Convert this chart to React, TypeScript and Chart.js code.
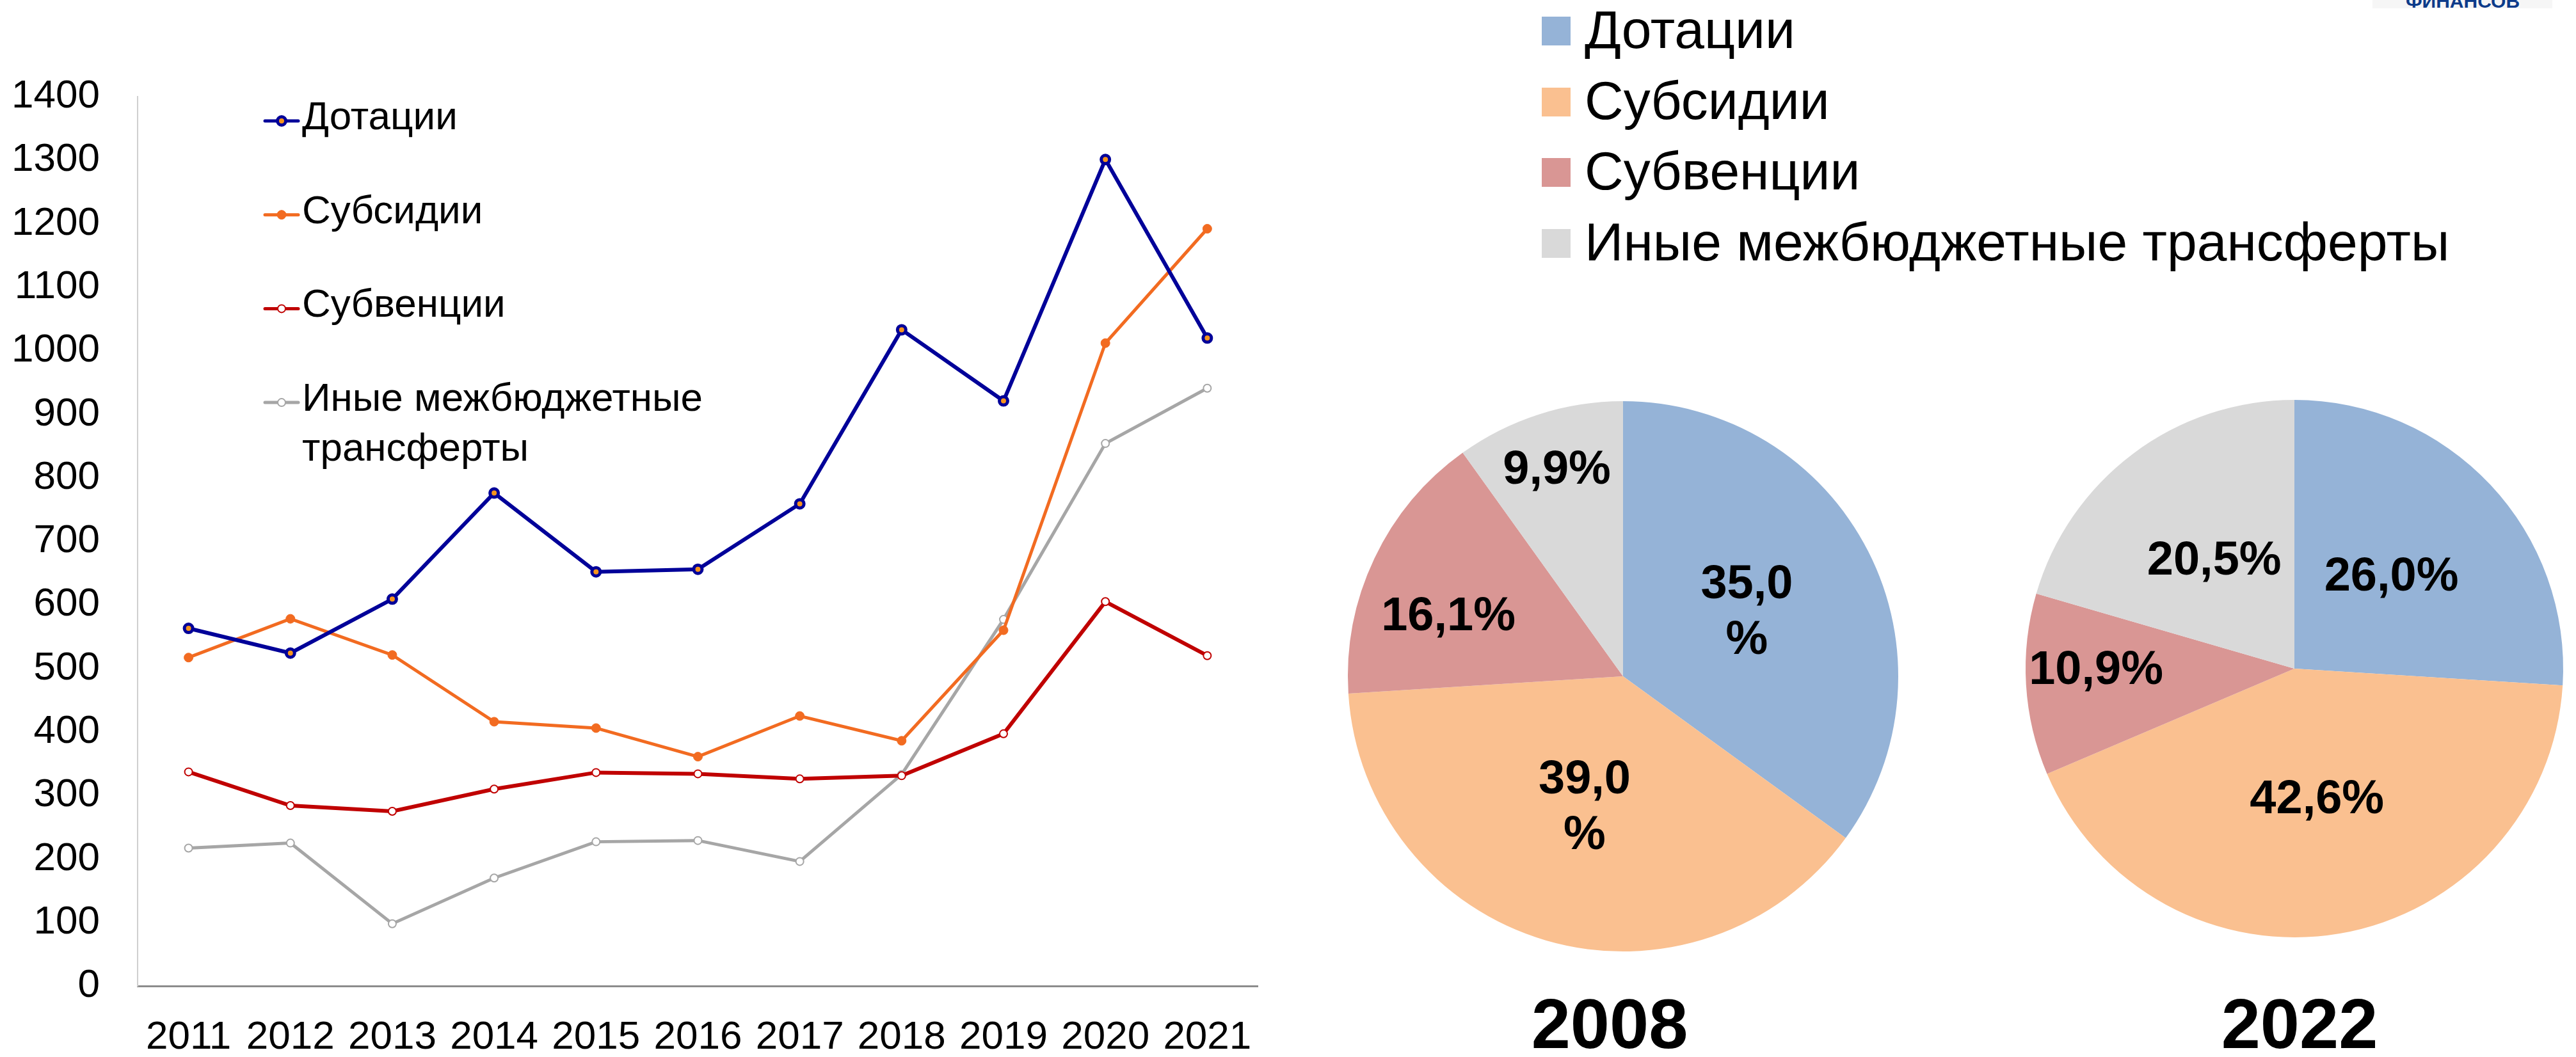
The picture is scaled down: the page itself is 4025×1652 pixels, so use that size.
import React, { useEffect, useRef } from 'react';
import { Chart, registerables } from 'chart.js';

Chart.register(...registerables);

const FONT = "'Liberation Sans', Arial, sans-serif";

// ---- Line chart data ----
const years = ['2011', '2012', '2013', '2014', '2015', '2016', '2017', '2018', '2019', '2020', '2021'];
const seriesNames = ['Дотации', 'Субсидии', 'Субвенции', 'Иные межбюджетные трансферты'];
const dotacii = [563, 524, 609, 776, 652, 656, 759, 1033, 921, 1301, 1020];
const subsidii = [517, 578, 521, 416, 406, 361, 425, 386, 560, 1012, 1192];
const subvencii = [337, 284, 275, 310, 336, 334, 326, 331, 397, 605, 520];
const inye = [217, 225, 98, 170, 227, 229, 196, 333, 577, 854, 941];
const yMin = 0;
const yMax = 1400;
const yStep = 100;

// ---- Pie chart data ----
const pieYears = ['2008', '2022'];
const share2008 = [35.0, 39.0, 16.1, 9.9];
const share2022 = [26.0, 42.6, 10.9, 20.5];
const pieColors = ['#95B3D7', '#FAC090', '#D99694', '#D9D9D9'];

// label placement (fraction of radius along slice bisector, angle tweak in degrees, wrap "%" to next line)
const labelRadius2008 = [0.505, 0.5, 0.67, 0.786];
const labelShift2008 = [0, 0, -6.7, 0];
const labelWrap2008 = [true, true, false, false];
const labelRadius2022 = [0.495, 0.497, 0.738, 0.497];
const labelShift2022 = [0, 0, 2.7, 0];
const labelWrap2022 = [false, false, false, false];

const lineStyles = [
  { color: '#000099', pointFill: '#F7941D', pointBorder: '#000099', radius: 6.5, bw: 5, width: 6 },
  { color: '#F26B21', pointFill: '#F26B21', pointBorder: '#F26B21', radius: 7, bw: 1, width: 5 },
  { color: '#C00000', pointFill: '#FFFFFF', pointBorder: '#C00000', radius: 6, bw: 2, width: 6 },
  { color: '#A6A6A6', pointFill: '#FFFFFF', pointBorder: '#A6A6A6', radius: 6, bw: 2, width: 5 },
];

const fmtPct = (v: number) => v.toFixed(1).replace('.', ',') + '%';

function wrapText(ctx: CanvasRenderingContext2D, text: string, maxWidth: number): string[] {
  const words = text.split(' ');
  const lines: string[] = [];
  let cur = '';
  for (const w of words) {
    const test = cur ? cur + ' ' + w : w;
    if (cur && ctx.measureText(test).width > maxWidth) {
      lines.push(cur);
      cur = w;
    } else cur = test;
  }
  if (cur) lines.push(cur);
  return lines;
}

const lineLegendPlugin = {
  id: 'lineLegend',
  afterDraw(chart: any) {
    const ctx: CanvasRenderingContext2D = chart.ctx;
    ctx.save();
    ctx.font = `62px ${FONT}`;
    ctx.textAlign = 'left';
    ctx.textBaseline = 'middle';
    chart.data.datasets.forEach((ds: any, i: number) => {
      const y = 189 + i * 146.7;
      ctx.strokeStyle = ds.borderColor;
      ctx.lineWidth = 5;
      ctx.lineCap = 'round';
      ctx.beginPath();
      ctx.moveTo(414, y);
      ctx.lineTo(466, y);
      ctx.stroke();
      ctx.beginPath();
      ctx.arc(440, y, ds.pointRadius, 0, Math.PI * 2);
      ctx.fillStyle = ds.pointBackgroundColor;
      ctx.fill();
      ctx.lineWidth = ds.pointBorderWidth;
      ctx.strokeStyle = ds.pointBorderColor;
      ctx.stroke();
      ctx.fillStyle = '#000';
      const lines = wrapText(ctx, ds.label, 700);
      lines.forEach((ln, k) => ctx.fillText(ln, 472, y - 4 + k * 78));
    });
    ctx.restore();
  },
};

function makePieLabelPlugin(radius: number[], shift: number[], wrap: boolean[]) {
  return {
    id: 'pieLabels',
    afterDatasetsDraw(chart: any) {
      const ctx: CanvasRenderingContext2D = chart.ctx;
      const meta = chart.getDatasetMeta(0);
      const values = chart.data.datasets[0].data as number[];
      ctx.save();
      ctx.font = `bold 74px ${FONT}`;
      ctx.fillStyle = '#000';
      ctx.textAlign = 'center';
      ctx.textBaseline = 'middle';
      meta.data.forEach((arc: any, i: number) => {
        const p = arc.getProps(['x', 'y', 'startAngle', 'endAngle', 'outerRadius'], true);
        const mid = (p.startAngle + p.endAngle) / 2 + (shift[i] * Math.PI) / 180;
        const r = p.outerRadius * radius[i];
        const px = p.x + Math.cos(mid) * r;
        const py = p.y + Math.sin(mid) * r;
        const txt = fmtPct(values[i]);
        const lines = wrap[i] ? [txt.slice(0, -1), '%'] : [txt];
        lines.forEach((ln, k) => ctx.fillText(ln, px, py + (k - (lines.length - 1) / 2) * 87));
      });
      ctx.restore();
    },
  };
}

function pieConfig(values: number[], plugin: any): any {
  return {
    type: 'pie',
    data: {
      labels: seriesNames,
      datasets: [
        {
          data: values,
          backgroundColor: pieColors,
          borderWidth: 0,
          hoverOffset: 0,
          offset: 0,
        },
      ],
    },
    options: {
      responsive: false,
      animation: false,
      events: [],
      layout: { padding: 20 },
      plugins: { legend: { display: false }, tooltip: { enabled: false } },
    },
    plugins: [plugin],
  };
}

export default function App() {
  const lineRef = useRef<HTMLCanvasElement>(null);
  const pie1Ref = useRef<HTMLCanvasElement>(null);
  const pie2Ref = useRef<HTMLCanvasElement>(null);

  useEffect(() => {
    const seriesValues = [dotacii, subsidii, subvencii, inye];
    const lineChart = new Chart(lineRef.current as HTMLCanvasElement, {
      type: 'line',
      data: {
        labels: years,
        datasets: seriesValues.map((vals, i) => ({
          label: seriesNames[i],
          data: vals,
          borderColor: lineStyles[i].color,
          backgroundColor: lineStyles[i].color,
          borderWidth: lineStyles[i].width,
          tension: 0,
          pointRadius: lineStyles[i].radius,
          pointBackgroundColor: lineStyles[i].pointFill,
          pointBorderColor: lineStyles[i].pointBorder,
          pointBorderWidth: lineStyles[i].bw,
          fill: false,
        })),
      },
      options: {
        responsive: false,
        animation: false,
        events: [],
        layout: { padding: { top: 151, right: 15, left: 0, bottom: 0 } },
        plugins: { legend: { display: false }, tooltip: { enabled: false } },
        scales: {
          x: {
            offset: true,
            grid: { display: true, drawOnChartArea: false, drawTicks: false, color: 'transparent' },
            border: { display: true, color: '#8C8C8C', width: 3 },
            ticks: { color: '#000', font: { size: 62, family: FONT }, padding: 44, maxRotation: 0, autoSkip: false },
            afterFit: (scale: any) => {
              scale.height = 111;
            },
          },
          y: {
            min: yMin,
            max: yMax,
            grid: { display: true, drawOnChartArea: false, drawTicks: false, color: 'transparent' },
            border: { display: true, color: '#CFCFCF', width: 2 },
            ticks: {
              stepSize: yStep,
              color: '#000',
              font: { size: 62, family: FONT },
              padding: 59,
              callback: (v: any) => String(v),
            },
            afterFit: (scale: any) => {
              scale.width = 215;
            },
          },
        },
      },
      plugins: [lineLegendPlugin],
    } as any);

    const pie1 = new Chart(
      pie1Ref.current as HTMLCanvasElement,
      pieConfig(share2008, makePieLabelPlugin(labelRadius2008, labelShift2008, labelWrap2008))
    );
    const pie2 = new Chart(
      pie2Ref.current as HTMLCanvasElement,
      pieConfig(share2022, makePieLabelPlugin(labelRadius2022, labelShift2022, labelWrap2022))
    );
    return () => {
      lineChart.destroy();
      pie1.destroy();
      pie2.destroy();
    };
  }, []);

  const abs = (l: number, t: number, w: number, h: number): React.CSSProperties => ({
    position: 'absolute',
    left: l,
    top: t,
    width: w,
    height: h,
  });

  return (
    <div style={{ ...abs(0, 0, 4025, 1652), overflow: 'hidden', background: '#fff', fontFamily: FONT, color: '#000' }}>
      <canvas ref={lineRef} width={2000} height={1652} style={{ ...abs(0, 0, 2000, 1652), display: 'block' }} />
      <canvas ref={pie1Ref} width={900} height={900} style={{ ...abs(2086, 607, 900, 900), display: 'block' }} />
      <canvas ref={pie2Ref} width={880} height={880} style={{ ...abs(3145, 605, 880, 880), display: 'block' }} />

      {seriesNames.map((name, i) => {
        const top = 26 + i * 110.7;
        return (
          <React.Fragment key={name}>
            <div style={{ ...abs(2409, top, 45, 45), background: pieColors[i] }} />
            <div
              style={{
                position: 'absolute',
                left: 2476,
                top: top - 2,
                height: 45,
                lineHeight: '45px',
                fontSize: 84,
                whiteSpace: 'nowrap',
              }}
            >
              {name}
            </div>
          </React.Fragment>
        );
      })}

      {pieYears.map((yr, i) => (
        <div
          key={yr}
          style={{
            ...abs(i === 0 ? 2315 : 3393, 1545, 400, 110),
            textAlign: 'center',
            fontSize: 110,
            lineHeight: '110px',
            fontWeight: 'bold',
          }}
        >
          {yr}
        </div>
      ))}

      <div style={{ ...abs(3707, 0, 281, 13), background: '#F6F6F6', overflow: 'hidden' }}>
        <div
          style={{
            position: 'absolute',
            left: 52,
            top: -13,
            lineHeight: '30px',
            fontSize: 30,
            fontWeight: 'bold',
            color: '#0D3B8A',
            whiteSpace: 'nowrap',
          }}
        >
          ФИНАНСОВ
        </div>
      </div>
    </div>
  );
}
